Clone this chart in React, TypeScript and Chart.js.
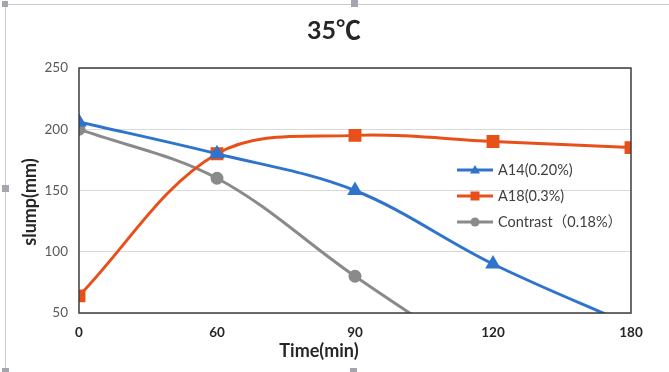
import React, { useEffect, useRef } from "react";
import { Chart, registerables } from "chart.js";

Chart.register(...registerables);

const categories = ["0", "60", "90", "120", "180"];
const a14 = [206, 180, 150, 90, 40];
const a18 = [64, 180, 195, 190, 185];
const contrast: (number | null)[] = [200, 160, 80, 5, null];
const yTicks = [50, 100, 150, 200, 250];

const chartTitle = "35℃";
const xTitle = "Time(min)";
const yTitle = "slump(mm)";

const FONT = "Lato, 'Noto Sans CJK SC', 'DejaVu Sans', sans-serif";

const BLUE = "#2f74cc";
const ORANGE = "#e8501a";
const GRAY = "#8a8a8a";

const decorPlugin = {
  id: "decor",
  beforeDraw(chart: any) {
    const ctx = chart.ctx;
    ctx.save();
    ctx.fillStyle = "#ffffff";
    ctx.fillRect(0, 0, chart.width, chart.height);
    ctx.strokeStyle = "#c9c9ce";
    ctx.lineWidth = 1;
    ctx.beginPath();
    ctx.moveTo(5, 4.5);
    ctx.lineTo(chart.width, 4.5);
    ctx.moveTo(5.5, 4);
    ctx.lineTo(5.5, chart.height);
    ctx.stroke();
    ctx.fillStyle = "#a5a5ad";
    ctx.fillRect(2, 1, 6, 6);
    ctx.fillRect(351, 0, 7, 7);
    ctx.fillRect(2, 185, 7, 7);
    ctx.fillRect(2, 368, 7, 4);
    ctx.fillRect(350, 368, 7, 4);
    ctx.restore();
  },
  afterDatasetsDraw(chart: any) {
    const { ctx, chartArea } = chart;
    ctx.save();
    ctx.strokeStyle = "#3d3d3d";
    ctx.lineWidth = 1.5;
    ctx.strokeRect(
      chartArea.left,
      chartArea.top,
      chartArea.right - chartArea.left,
      chartArea.bottom - chartArea.top
    );
    ctx.restore();
  },
};

const titlesPlugin = {
  id: "titles",
  afterDraw(chart: any) {
    const ctx = chart.ctx;
    ctx.save();
    ctx.textAlign = "center";
    ctx.textBaseline = "middle";
    ctx.fillStyle = "#262626";
    ctx.font = `bold 25px ${FONT}`;
    ctx.fillText(chartTitle, 334, 31);
    ctx.font = `bold 18px ${FONT}`;
    ctx.fillText(xTitle, 319, 351);
    ctx.translate(30, 202);
    ctx.rotate(-Math.PI / 2);
    ctx.fillText(yTitle, 0, 0);
    ctx.restore();
  },
};

const legendPlugin = {
  id: "innerLegend",
  afterDraw(chart: any) {
    const ctx = chart.ctx;
    const x0 = 457;
    const x1 = 493;
    const ys = [170, 196, 222];
    ctx.save();
    chart.data.datasets.forEach((ds: any, i: number) => {
      const y = ys[i];
      ctx.strokeStyle = ds.borderColor;
      ctx.lineWidth = 3;
      ctx.beginPath();
      ctx.moveTo(x0, y);
      ctx.lineTo(x1, y);
      ctx.stroke();
      ctx.fillStyle = ds.borderColor;
      const cx = (x0 + x1) / 2;
      if (ds.pointStyle === "triangle") {
        ctx.beginPath();
        ctx.moveTo(cx, y - 5);
        ctx.lineTo(cx + 5, y + 3.5);
        ctx.lineTo(cx - 5, y + 3.5);
        ctx.closePath();
        ctx.fill();
      } else if (ds.pointStyle === "rect") {
        ctx.fillRect(cx - 4.5, y - 4.5, 9, 9);
      } else {
        ctx.beginPath();
        ctx.arc(cx, y, 4.5, 0, Math.PI * 2);
        ctx.fill();
      }
      ctx.fillStyle = "#404040";
      ctx.font = `14.5px ${FONT}`;
      ctx.textBaseline = "middle";
      ctx.textAlign = "left";
      ctx.fillText(ds.label, x1 + 5, y);
    });
    ctx.restore();
  },
};

export default function App() {
  const ref = useRef<HTMLCanvasElement>(null);

  useEffect(() => {
    if (!ref.current) return;
    const chart = new Chart(ref.current, {
      type: "line",
      data: {
        labels: categories,
        datasets: [
          {
            label: "A14(0.20%)",
            data: a14,
            borderColor: BLUE,
            backgroundColor: BLUE,
            pointStyle: "triangle",
            pointRadius: 6,
            borderWidth: 3,
            tension: 0.35,
            clip: 0,
          },
          {
            label: "A18(0.3%)",
            data: a18,
            borderColor: ORANGE,
            backgroundColor: ORANGE,
            pointStyle: "rect",
            pointRadius: 7,
            borderWidth: 3,
            tension: 0.35,
            clip: 0,
          },
          {
            label: "Contrast（0.18%）",
            data: contrast,
            borderColor: GRAY,
            backgroundColor: GRAY,
            pointStyle: "circle",
            pointRadius: 5,
            borderWidth: 3,
            tension: 0.35,
            clip: 0,
          },
        ],
      } as any,
      options: {
        animation: false,
        responsive: false,
        layout: { padding: { left: 10, right: 38, top: 68, bottom: 8 } },
        plugins: {
          legend: { display: false },
          tooltip: { enabled: false },
          title: { display: false },
        },
        scales: {
          x: {
            type: "category",
            offset: false,
            grid: { display: false, drawTicks: false },
            border: { display: false },
            ticks: {
              padding: 12,
              color: "#262626",
              font: { family: FONT, size: 13.5, weight: "bold" },
              maxRotation: 0,
            },
            afterFit(scale: any) {
              scale.height = 51;
            },
          },
          y: {
            min: 50,
            max: 250,
            afterBuildTicks(scale: any) {
              scale.ticks = yTicks.map((v) => ({ value: v }));
            },
            grid: { color: "#d9d9d9", lineWidth: 1, drawTicks: false },
            border: { display: false },
            ticks: {
              padding: 11,
              color: "#595959",
              font: { family: FONT, size: 13.5 },
            },
            afterFit(scale: any) {
              scale.width = 69;
            },
          },
        },
      } as any,
      plugins: [decorPlugin, titlesPlugin, legendPlugin],
    });
    return () => chart.destroy();
  }, []);

  return (
    <div style={{ position: "fixed", left: 0, top: 0, width: 669, height: 372 }}>
      <canvas ref={ref} width={669} height={372} />
    </div>
  );
}
